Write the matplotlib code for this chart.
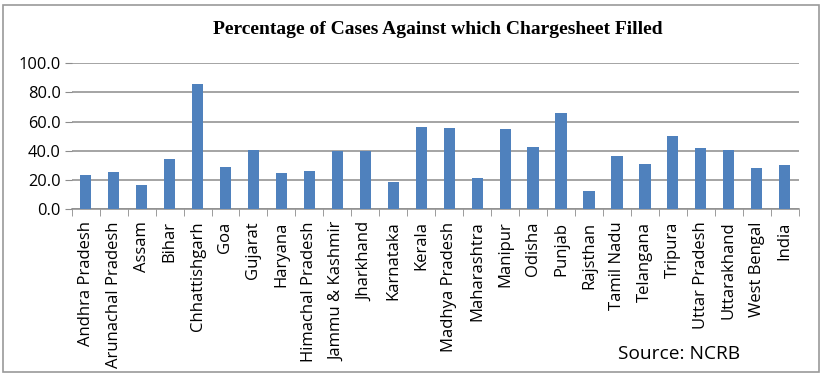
import matplotlib
matplotlib.use("Agg")
import matplotlib.pyplot as plt
import numpy as np
from matplotlib.patches import Rectangle

states = ["Andhra Pradesh", "Arunachal Pradesh", "Assam", "Bihar", "Chhattishgarh", "Goa",
          "Gujarat", "Haryana", "Himachal Pradesh", "Jammu & Kashmir", "Jharkhand", "Karnataka",
          "Kerala", "Madhya Pradesh", "Maharashtra", "Manipur", "Odisha", "Punjab", "Rajsthan",
          "Tamil Nadu", "Telangana", "Tripura", "Uttar Pradesh", "Uttarakhand", "West Bengal", "India"]
values = [23.3, 25.2, 16.7, 34.1, 85.6, 29.0, 40.5, 24.5, 26.1, 40.0, 40.0, 18.3,
          56.3, 55.6, 21.3, 54.7, 42.8, 65.7, 12.6, 36.6, 30.7, 50.1, 41.7, 40.5, 27.9, 30.0]
yticks = [0, 20, 40, 60, 80, 100]

W, H = 825, 378
fig = plt.figure(figsize=(W / 100, H / 100), dpi=100)
fig.patches.append(Rectangle((3 / W, 1 - 372 / H), 816 / W, 367 / H, transform=fig.transFigure,
                             fill=False, edgecolor="#9a9a9a", linewidth=1.2))

ax = fig.add_axes([71.7 / W, 1 - 209 / H, 727 / W, (209 - 63.3) / H])
x = np.arange(len(states))
ax.bar(x, values, width=0.4, color="#4F81BD", zorder=3)
ax.set_xlim(-0.5, len(states) - 0.5)
ax.set_ylim(0, 100)
ax.set_yticks(yticks)
ax.set_yticklabels([f"{v:.1f}" for v in yticks], fontsize=11.8, family="Open Sans")
ax.yaxis.grid(True, color="#8c8c8c", linewidth=1.1, zorder=0)
ax.tick_params(axis="y", length=5, color="#8c8c8c", pad=3)
ax.set_xticks(x)
ax.set_xticklabels(states, rotation=90, fontsize=12, family="Open Sans")
ax.set_xticks(np.arange(-0.5, len(states)), minor=True)
ax.tick_params(axis="x", which="major", length=0, pad=9)
ax.tick_params(axis="x", which="minor", length=5, color="#8c8c8c", direction="out")
for s in ["top", "right", "left"]:
    ax.spines[s].set_visible(False)
ax.spines["bottom"].set_color("#8c8c8c")
ax.spines["bottom"].set_linewidth(1.1)

fig.text(438 / W, 1 - 30 / H, "Percentage of Cases Against which Chargesheet Filled",
         ha="center", va="center", fontsize=14, fontweight="bold", family="Liberation Serif")
fig.text(679 / W, 1 - 354 / H, "Source: NCRB", ha="center", va="center", fontsize=13.8,
         family="Open Sans")

fig.savefig("out.png", dpi=100)
